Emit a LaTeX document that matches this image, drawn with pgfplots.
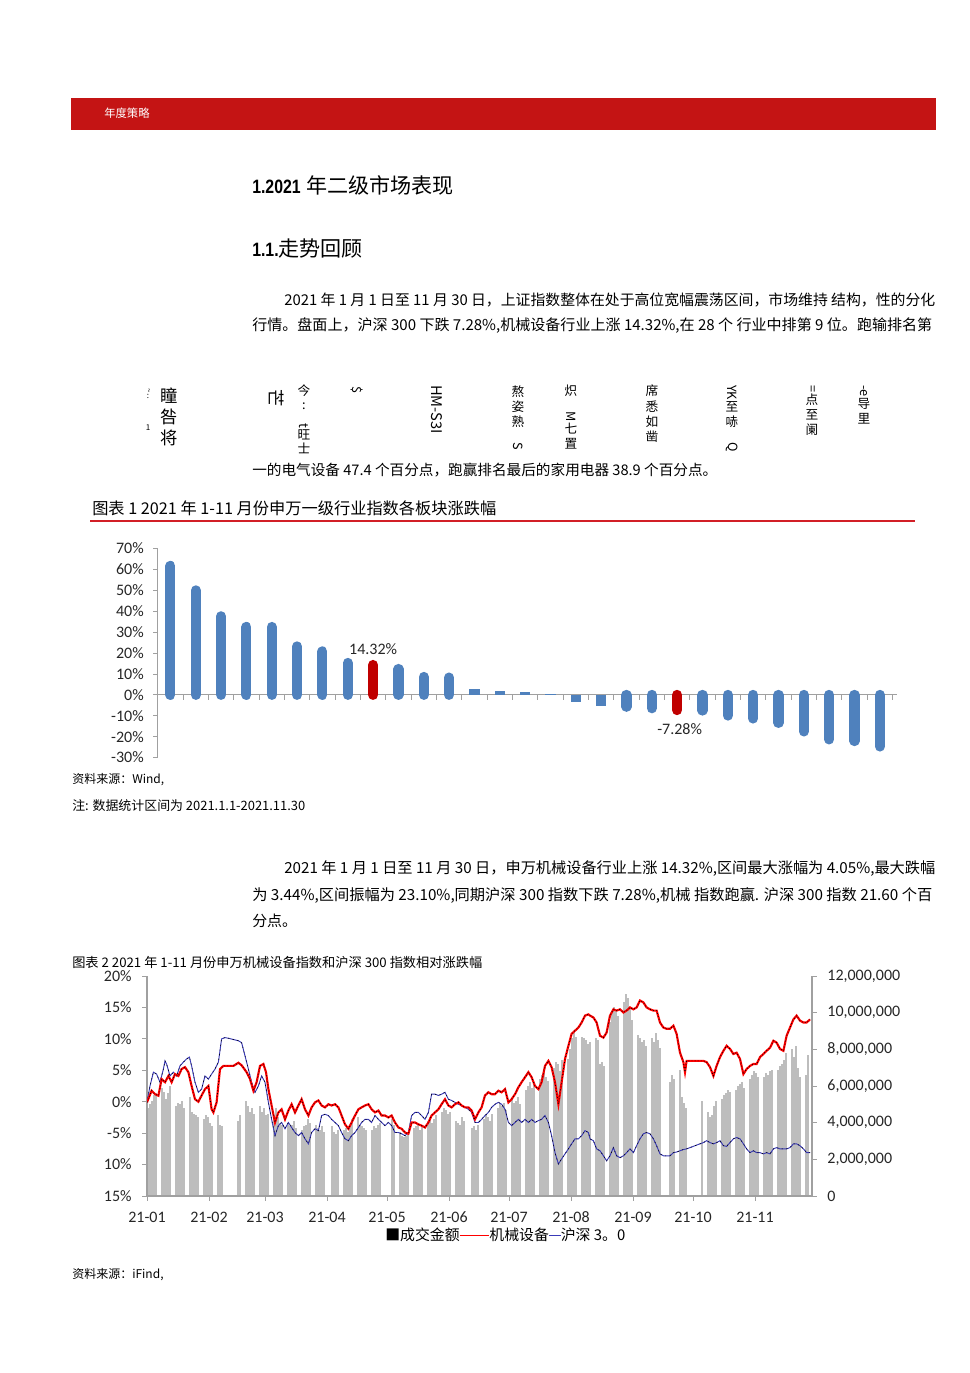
\documentclass[border=0pt]{standalone}
\usepackage{fontspec}
\usepackage{graphicx}
\usepackage{pgfplots}
\usepackage{pgfplotstable}
\pgfplotsset{compat=1.18}
\setmainfont{Liberation Sans}
\newfontfamily\cjk{Noto Sans CJK SC}
\newfontfamily\calfont{Carlito}
\definecolor{banner}{HTML}{C41414}
\definecolor{barblue}{HTML}{4F81BD}
\definecolor{barred}{HTML}{C00000}
\definecolor{axgray}{HTML}{A0A0A0}
\definecolor{volgray}{HTML}{BDBDBD}
\definecolor{rulered}{HTML}{D21F26}
\definecolor{hsblue}{HTML}{3A3AB8}

\pgfplotsset{
  every inner x axis line/.append style={-},
  every outer x axis line/.append style={-},
  every inner y axis line/.append style={-},
  every outer y axis line/.append style={-},
}

\pgfplotstableread{
x y
0 -0.1
2.3 1.75
4.0 1.2
5.7 0.95
7.3 3.6
9.0 3.1
10.7 4.1
12.3 3.1
14.0 4.4
15.7 4.1
17.3 5.2
19.0 5.5
20.7 4.7
22.3 2.5
24.0 0.4
25.7 0.0
27.3 1.0
29.0 2.0
30.7 2.5
32.3 -1.2
33.2 -1.7
34.8 -0.1
36.5 5.2
38.2 5.7
43.2 5.7
45.7 6.2
47.3 5.8
49.8 4.7
51.5 3.6
53.2 1.75
54.8 3.1
56.5 5.7
58.2 6.0
59.5 4.7
60.7 2.0
62.3 -0.6
64.0 -3.3
65.7 -1.7
67.3 -1.2
69.0 -2.8
70.7 -1.4
72.3 -0.4
74.0 -1.7
75.7 -0.6
77.3 0.4
79.0 -1.2
80.7 -2.2
82.3 -0.9
84.0 -0.1
85.7 0.2
87.3 -0.6
89.0 -0.9
90.7 -0.4
92.3 -0.6
94.0 -0.4
95.7 -0.9
97.3 -2.2
99.0 -3.6
100.7 -4.3
102.3 -3.3
104.0 -2.2
105.7 -1.2
107.3 -0.9
109.0 -0.6
110.7 -0.4
112.3 -1.2
114.0 -1.7
115.7 -1.4
117.3 -2.2
119.0 -2.2
120.7 -2.5
122.3 -2.2
124.0 -3.3
125.7 -4.1
127.3 -4.3
129.0 -4.9
130.7 -5.1
132.3 -3.3
134.0 -3.3
135.7 -3.6
137.3 -3.8
139.0 -4.1
140.7 -3.3
142.3 -2.2
144.0 -1.7
145.7 -1.2
147.3 -0.4
149.0 0.4
150.7 -0.6
152.3 -0.9
154.0 -0.4
155.7 -0.1
157.3 -0.6
159.0 -0.9
160.7 -0.9
162.3 -1.4
164.0 -2.8
165.7 -1.7
167.3 -0.9
169.0 1.0
170.7 1.5
172.3 1.2
174.0 1.2
175.7 1.75
177.3 1.5
179.0 2.0
180.7 -0.1
182.3 0.4
184.0 1.2
185.7 2.3
187.3 3.1
189.0 3.9
190.7 4.7
192.3 3.9
194.0 2.5
195.7 2.0
197.3 3.1
199.0 5.7
200.7 6.5
202.3 5.5
204.0 3.1
205.7 -0.4
207.3 3.1
209.0 6.8
210.7 8.9
212.3 10.8
214.0 11.3
215.7 11.8
217.3 12.6
219.0 13.7
220.7 13.9
221.5 13.7
223.2 13.4
224.8 12.6
226.5 10.5
228.2 10.2
229.8 11.0
231.5 13.7
233.2 14.7
234.8 14.5
236.5 14.7
238.2 14.2
239.8 14.5
241.5 15.0
243.2 14.7
244.8 15.0
246.5 16.1
248.2 15.8
249.8 15.0
251.5 14.7
253.2 14.5
254.8 14.5
256.5 12.6
258.2 11.8
259.8 11.6
261.5 11.6
263.2 12.1
264.8 10.8
266.5 7.8
268.2 6.3
269.0 4.7
269.8 6.5
271.5 6.5
274.8 6.5
278.2 6.5
279.8 6.3
281.5 5.5
283.2 4.1
284.8 5.7
286.5 7.1
288.2 8.1
289.8 8.9
291.5 8.4
293.2 7.6
294.8 7.8
296.5 6.8
298.2 4.4
299.8 5.2
301.5 5.7
303.2 6.0
304.8 6.0
306.5 7.1
308.2 7.6
309.8 8.1
311.5 8.6
313.2 9.7
314.8 9.4
316.5 8.4
318.2 8.1
319.8 10.5
321.5 11.8
323.2 13.1
324.8 13.7
326.5 12.9
328.2 12.6
329.8 12.6
331.5 13.1
}\redtab

\pgfplotstableread{
x y
0 -0.1
1.5 2.5
3.2 4.7
4.8 4.4
6.5 3.1
8.2 5.2
9.0 6.5
9.8 6.0
11.5 4.1
13.2 4.7
14.8 4.1
16.5 5.7
18.2 6.3
19.8 6.8
21.2 7.1
22.3 5.7
24.0 3.1
25.7 1.5
27.3 2.0
29.0 4.1
30.7 3.6
32.3 4.4
34.0 5.2
35.7 6.3
37.3 10.0
39.0 10.2
40.7 10.1
43.2 9.9
45.7 9.7
47.3 9.4
49.0 7.3
50.7 5.2
52.3 3.1
54.0 1.5
55.7 2.5
57.3 4.1
59.0 3.1
60.7 -0.1
62.3 -2.8
64.0 -5.4
65.7 -3.8
67.3 -3.3
69.0 -4.3
70.7 -3.3
72.3 -4.1
74.0 -4.9
75.7 -5.4
77.3 -4.9
79.0 -5.9
80.7 -6.7
82.3 -4.9
84.0 -4.3
85.7 -4.6
87.3 -2.2
89.0 -2.0
90.7 -2.2
92.3 -2.8
94.0 -3.3
95.7 -3.8
97.3 -4.9
99.0 -5.9
100.7 -6.2
102.3 -5.4
104.0 -4.9
105.7 -4.1
107.3 -3.3
109.0 -2.8
110.7 -2.8
112.3 -3.3
114.0 -2.2
115.7 -2.8
117.3 -3.3
119.0 -3.8
120.7 -3.3
122.3 -3.8
124.0 -4.9
125.7 -4.9
127.3 -5.1
129.0 -5.4
130.7 -4.9
132.3 -2.2
134.0 -1.7
135.7 -1.7
137.3 -2.2
139.0 -2.8
140.7 -1.7
142.3 1.2
144.0 1.2
145.7 1.0
147.3 1.2
149.0 1.5
150.7 0.4
152.3 0.2
154.0 -0.1
155.7 -0.4
157.3 -0.6
159.0 -0.9
160.7 -1.2
162.3 -1.7
164.0 -3.3
165.7 -3.3
167.3 -2.8
169.0 -2.2
170.7 -1.7
172.3 -0.9
174.0 -0.4
175.7 -0.1
177.3 -0.4
179.0 -1.2
180.7 -3.3
182.3 -3.8
184.0 -3.3
185.7 -2.8
187.3 -3.3
189.0 -2.8
190.7 -3.3
192.3 -2.8
194.0 -3.3
195.7 -3.0
197.3 -2.8
199.0 -2.2
200.7 -3.3
202.3 -5.4
204.0 -8.1
205.7 -9.9
207.3 -9.1
209.0 -8.3
210.7 -7.5
212.3 -6.7
214.0 -5.9
215.7 -5.9
217.3 -5.4
219.0 -4.6
220.7 -4.9
221.5 -5.9
223.2 -6.2
224.8 -7.5
226.5 -7.8
228.2 -8.6
229.8 -9.4
231.5 -8.6
233.2 -7.3
234.8 -8.6
236.5 -8.9
238.2 -8.6
239.8 -8.1
241.5 -7.5
243.2 -8.1
244.8 -7.0
246.5 -5.9
248.2 -5.1
249.8 -4.9
251.5 -5.1
253.2 -5.9
254.8 -7.0
256.5 -8.3
258.2 -8.6
259.8 -8.6
261.5 -8.6
263.2 -8.1
264.8 -8.0
266.5 -7.8
268.2 -7.6
269.8 -7.5
271.5 -7.3
274.8 -6.9
278.2 -6.5
279.8 -6.2
281.5 -6.5
283.2 -6.7
284.8 -6.5
286.5 -6.2
288.2 -7.0
289.8 -7.1
291.5 -6.5
293.2 -5.9
294.8 -5.7
296.5 -5.9
298.2 -6.7
299.8 -7.5
301.5 -8.1
303.2 -7.8
304.8 -8.1
306.5 -8.1
308.2 -8.3
309.8 -8.1
311.5 -8.3
313.2 -7.5
314.8 -7.3
316.5 -7.5
318.2 -7.5
319.8 -7.5
321.5 -7.3
323.2 -6.7
324.8 -6.7
326.5 -7.0
328.2 -7.5
329.8 -8.1
331.5 -8.1
}\bluetab

\pgfplotstableread{
x y
0.5 4.8
1.5 5.0
2.5 5.2
3.5 5.5
4.5 5.6
7.5 5.9
8.5 5.7
9.5 5.3
10.5 5.6
11.5 6.0
14.5 4.9
15.5 5.1
16.5 5.0
17.5 5.2
18.5 4.8
21.5 5.4
22.5 4.6
23.5 4.5
24.5 4.4
25.5 4.3
28.5 4.2
29.5 4.4
30.5 4.3
31.5 4.0
32.5 3.8
35.5 4.4
36.5 3.9
37.5 3.8
45.5 4.1
46.5 4.4
49.5 5.2
50.5 4.9
51.5 4.6
52.5 4.8
53.5 4.5
56.5 4.9
57.5 4.6
58.5 4.8
59.5 4.4
60.5 4.5
63.5 4.4
64.5 4.8
65.5 4.3
66.5 4.0
67.5 3.9
70.5 4.0
71.5 3.8
72.5 3.9
73.5 4.1
74.5 3.7
77.5 3.6
78.5 3.8
79.5 3.9
80.5 4.2
81.5 4.0
84.5 3.9
85.5 3.7
86.5 3.6
87.5 3.8
88.5 3.5
92.5 3.8
93.5 3.5
94.5 3.4
95.5 3.6
98.5 3.6
99.5 3.7
100.5 3.5
101.5 3.9
102.5 4.2
105.5 4.3
106.5 3.9
107.5 3.8
108.5 3.7
109.5 3.6
112.5 3.6
113.5 3.8
114.5 3.7
115.5 3.9
116.5 4.0
122.5 4.2
123.5 3.9
126.5 3.5
127.5 3.3
128.5 3.2
129.5 3.3
130.5 3.5
133.5 3.7
134.5 3.8
135.5 3.9
136.5 3.6
137.5 3.8
140.5 4.1
141.5 4.3
142.5 4.0
143.5 4.2
144.5 4.4
147.5 4.6
148.5 4.8
149.5 4.7
150.5 4.5
151.5 4.6
154.5 4.1
155.5 4.0
156.5 3.9
157.5 4.3
158.5 4.1
162.5 3.7
163.5 3.8
164.5 3.6
165.5 3.9
168.5 4.2
169.5 4.4
170.5 4.3
171.5 4.1
172.5 4.5
175.5 4.8
176.5 5.0
177.5 4.9
178.5 5.1
179.5 4.7
182.5 5.3
183.5 5.1
184.5 5.2
185.5 5.4
186.5 5.0
189.5 5.8
190.5 6.0
191.5 6.2
192.5 5.9
193.5 6.1
196.5 6.4
197.5 6.6
198.5 6.9
199.5 6.5
200.5 6.3
203.5 7.0
204.5 7.3
205.5 7.2
206.5 6.8
207.5 7.4
210.5 7.5
211.5 8.0
212.5 8.6
213.5 9.0
214.5 8.7
217.5 8.7
218.5 8.6
219.5 8.5
220.5 8.3
221.5 8.4
224.5 8.6
225.5 8.5
226.5 7.2
227.5 7.3
228.5 7.1
231.5 9.5
232.5 10.0
233.5 10.3
234.5 10.1
235.5 9.8
238.5 10.6
239.5 11.0
240.5 10.8
241.5 10.2
242.5 9.6
245.5 8.8
246.5 8.6
247.5 8.4
248.5 8.5
249.5 8.2
252.5 8.6
253.5 8.4
254.5 8.9
255.5 8.5
256.5 8.1
261.5 6.2
262.5 6.6
263.5 6.4
266.5 6.9
267.5 5.4
268.5 5.1
269.5 4.8
277.5 5.2
280.5 4.6
281.5 4.3
282.5 4.4
283.5 4.9
284.5 5.2
287.5 5.3
288.5 5.5
289.5 5.6
290.5 5.8
291.5 5.7
294.5 5.8
295.5 6.0
296.5 6.1
297.5 6.2
298.5 5.9
301.5 6.4
302.5 6.6
303.5 6.8
304.5 6.7
305.5 6.5
308.5 6.5
309.5 6.7
310.5 6.6
311.5 6.8
312.5 6.9
315.5 6.9
316.5 7.1
317.5 7.2
318.5 7.4
319.5 7.8
322.5 8.0
323.5 7.6
324.5 8.2
325.5 7.0
326.5 6.5
329.5 6.6
330.5 7.7
}\voltab

\newcommand\body{\cjk\fontsize{11.2}{13}\selectfont}
\newcommand\vcol{\cjk\fontsize{9.5}{11.5}\selectfont}

\begin{document}
\begin{tikzpicture}
\begin{scope}[x=0.75pt,y=-0.75pt]
\path[use as bounding box] (0,0) rectangle (970,1373);
% banner
\fill[banner] (71,98) rectangle (936,130);
\node[anchor=west,inner sep=0,text=white,font=\cjk\fontsize{8.5}{10}\selectfont] at (104,113) {年度策略};
% headings
\node[anchor=west,inner sep=0] at (252,185) {\scalebox{0.82}[1]{\fontsize{14.5}{16}\selectfont\bfseries 1.2021}\hspace{4pt}{\cjk\fontsize{15.8}{17}\selectfont 年二级市场表现}};
\node[anchor=west,inner sep=0] at (252,249) {\scalebox{0.82}[1]{\fontsize{14.5}{16}\selectfont\bfseries 1.1.}{\cjk\fontsize{15.8}{17}\selectfont 走势回顾}};
% paragraph 1
\node[anchor=west,inner sep=0] at (284,300) {\resizebox{488.25pt}{!}{\body 2021 年 1 月 1 日至 11 月 30 日，上证指数整体在处于高位宽幅震荡区间，市场维持 结构，性的分化}};
\node[anchor=west,inner sep=0] at (252,326) {\resizebox{510pt}{!}{\body 行情。盘面上，沪深 300 下跌 7.28\%,机械设备行业上涨 14.32\%,在 28 个 行业中排第 9 位。跑输排名第}};
% garbled vertical text
\node[anchor=north,inner sep=0,align=center,font=\cjk\fontsize{6}{8}\selectfont] at (148,388) {\rotatebox{-90}{\textasciitilde}\\:\\ \\ \\1};
\node[anchor=north,inner sep=0,align=center,font=\cjk\fontsize{13}{15.5}\selectfont] at (169,388) {瞳\\咎\\将};
\node[anchor=center,inner sep=0,rotate=-90,font=\cjk\fontsize{13}{15}\selectfont] at (277,398) {芒};
\node[anchor=north,inner sep=0,align=center,font=\cjk\fontsize{9.5}{10.5}\selectfont] at (304,385) {今\\:\\\rotatebox{-90}{t}\\旺\\士};
\node[anchor=center,inner sep=0,rotate=-90,font=\cjk\fontsize{9.5}{11}\selectfont] at (357,390) {\$};
\node[inner sep=0,rotate=-90,font=\cjk\fontsize{11}{12}\selectfont,anchor=west] at (437,385) {HM-S3I};
\node[anchor=north,inner sep=0,align=center,font=\vcol] at (518,385) {熬\\姿\\熟\\\rotatebox{-90}{S}};
\node[anchor=north,inner sep=0,align=center,font=\vcol] at (571,385) {炽\\\rotatebox{-90}{M}\\七\\置};
\node[anchor=north,inner sep=0,align=center,font=\vcol] at (652,385) {席\\悉\\如\\凿};
\node[anchor=north,inner sep=0,align=center,font=\vcol] at (732,385) {\rotatebox{-90}{YK}\\至\\哧\\\rotatebox{-90}{Q}};
\node[anchor=north,inner sep=0,align=center,font=\vcol] at (812,385) {\rotatebox{-90}{=}\\点\\至\\阑};
\node[anchor=north,inner sep=0,align=center,font=\vcol] at (864,385) {\rotatebox{-90}{-e}\\导\\里};
\node[anchor=west,inner sep=0] at (252,470) {\resizebox{348.75pt}{!}{\body 一的电气设备 47.4 个百分点，跑赢排名最后的家用电器 38.9 个百分点。}};
% chart 1 title
\node[anchor=west,inner sep=0] at (92,508) {\resizebox{303pt}{!}{\cjk\fontsize{10}{12}\selectfont 图表 1 2021 年 1-11 月份申万一级行业指数各板块涨跌幅}};
\draw[rulered,line width=1.6pt] (90,521) -- (915,521);
% sources
\node[anchor=west,inner sep=0,font=\cjk\fontsize{9}{11}\selectfont] at (72,780) {资料来源：Wind,};
\node[anchor=west,inner sep=0] at (72,806) {\resizebox{174.75pt}{!}{\cjk\fontsize{9}{11}\selectfont 注: 数据统计区间为 2021.1.1-2021.11.30}};
% paragraph 2
\node[anchor=west,inner sep=0] at (284,869) {\resizebox{488.25pt}{!}{\body 2021 年 1 月 1 日至 11 月 30 日，申万机械设备行业上涨 14.32\%,区间最大涨幅为 4.05\%,最大跌幅}};
\node[anchor=west,inner sep=0] at (252,895) {\resizebox{510pt}{!}{\body 为 3.44\%,区间振幅为 23.10\%,同期沪深 300 指数下跌 7.28\%,机械 指数跑赢. 沪深 300 指数 21.60 个百}};
\node[anchor=west,inner sep=0] at (252,921) {\body 分点。};
% chart 2 title
\node[anchor=west,inner sep=0] at (72,962) {\resizebox{307.5pt}{!}{\cjk\fontsize{9}{11}\selectfont 图表 2 2021 年 1-11 月份申万机械设备指数和沪深 300 指数相对涨跌幅}};
% legend
\node[anchor=west,inner sep=0] at (385,1235) {\resizebox{180pt}{!}{\body ■成交金额\textcolor{red}{\rule[0.33em]{2em}{0.6pt}}机械设备\textcolor{hsblue}{\rule[0.33em]{0.8em}{0.6pt}}沪深 3。0}};
\node[anchor=west,inner sep=0,font=\cjk\fontsize{9}{11}\selectfont] at (72,1275) {资料来源：iFind,};
\end{scope}

% ---------- chart 1 ----------
\begin{axis}[
  at={(118.3pt,-568.2pt)}, anchor=south west,
  scale only axis, width=554.5pt, height=156.8pt,
  xmin=0.5, xmax=29.68, ymin=-30, ymax=70,
  axis x line=middle, axis y line=left,
  x axis line style={-}, y axis line style={-},
  axis line style={draw=axgray, line width=0.8pt},
  xtick={0.5,1.5,...,29.5}, xticklabels={},
  ytick={-30,-20,...,70},
  yticklabels={-30\%,-20\%,-10\%,0\%,10\%,20\%,30\%,40\%,50\%,60\%,70\%},
  tick style={draw=axgray, line width=0.6pt},
  major tick length=3.5pt,
  xtick align=outside, ytick align=outside,
  yticklabel style={font=\calfont\fontsize{12}{13}\selectfont, text=black!85, xshift=-3.5pt},
  clip=false,
]
\addplot[ycomb, no markers, draw=barblue, line width=7.6pt, line cap=round] coordinates {
(1,61.7)(2,50.0)(3,37.6)(4,32.5)(5,32.5)(6,23.2)(7,20.8)(8,15.3)(10,12.4)(11,8.6)(12,8.3)
(19,-5.7)(20,-6.4)(22,-7.5)(23,-9.9)(24,-11.3)(25,-13.4)(26,-17.5)(27,-21.3)(28,-22.1)(29,-24.7)};
\addplot[ycomb, no markers, draw=barblue, line width=7.6pt, line cap=butt] coordinates {
(13,2.7)(14,1.7)(15,1.3)(16,0.2)(17,-3.3)(18,-5.1)};
\addplot[ycomb, no markers, draw=barred, line width=7.6pt, line cap=round] coordinates {
(9,14.32)(21,-7.28)};
\node[font=\calfont\fontsize{12}{13}\selectfont, text=black!85] at (axis cs:9,22) {14.32\%};
\node[font=\calfont\fontsize{12}{13}\selectfont, text=black!85] at (axis cs:21.1,-16.3) {-7.28\%};
\end{axis}

% ---------- chart 2: volume ----------
\begin{axis}[
  at={(110.25pt,-897pt)}, anchor=south west,
  scale only axis, width=498.75pt, height=165pt,
  xmin=0, xmax=332.5, ymin=0, ymax=12,
  axis y line*=right, axis x line=none,
  y axis line style={-},
  axis line style={draw=axgray, line width=0.8pt},
  ytick={0,2,...,12},
  yticklabels={0,{2,000,000},{4,000,000},{6,000,000},{8,000,000},{10,000,000},{12,000,000}},
  tick style={draw=axgray, line width=0.6pt},
  major tick length=3.5pt, ytick align=outside,
  yticklabel style={font=\calfont\fontsize{12}{13}\selectfont, text=black!85, xshift=4.5pt},
]
\addplot[ycomb, no markers, draw=volgray, line width=1.3pt] table {\voltab};
\end{axis}

% ---------- chart 2: lines ----------
\begin{axis}[
  at={(110.25pt,-897pt)}, anchor=south west,
  scale only axis, width=498.75pt, height=165pt,
  xmin=0, xmax=332.5, ymin=-15, ymax=20,
  axis y line*=left, axis x line*=bottom,
  x axis line style={-}, y axis line style={-},
  axis line style={draw=axgray, line width=0.8pt},
  xtick={0,31,59,90,120,151,181,212,243,273,304},
  xticklabels={21-01,21-02,21-03,21-04,21-05,21-06,21-07,21-08,21-09,21-10,21-11},
  ytick={-15,-10,...,20},
  yticklabels={15\%,10\%,-5\%,0\%,5\%,10\%,15\%,20\%},
  tick style={draw=axgray, line width=0.6pt},
  major tick length=3.5pt, xtick align=outside, ytick align=outside,
  yticklabel style={font=\calfont\fontsize{12}{13}\selectfont, text=black!85, xshift=-4.5pt},
  xticklabel style={font=\calfont\fontsize{12}{13}\selectfont, text=black!85, yshift=-5pt},
]
\addplot[no markers, draw=hsblue, line width=0.7pt] table {\bluetab};
\addplot[no markers, draw=black, line width=0.4pt, dash pattern=on 1pt off 2.5pt] table {\bluetab};
\addplot[no markers, draw=red, line width=1.6pt] table {\redtab};
\addplot[no markers, draw=black, line width=0.5pt, dash pattern=on 0.7pt off 1.6pt] table {\redtab};
\end{axis}
\end{tikzpicture}
\end{document}
